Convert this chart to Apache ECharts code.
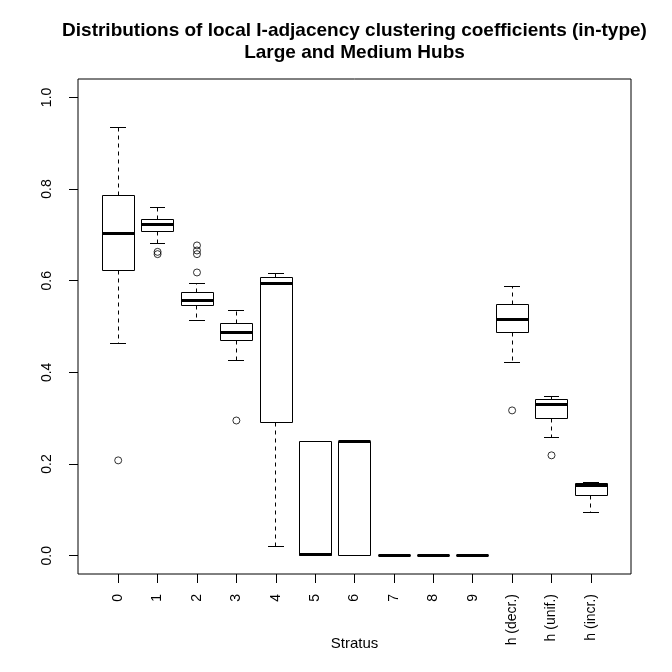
<!DOCTYPE html>
<html>
<head>
<meta charset="utf-8">
<script src="https://cdn.jsdelivr.net/npm/echarts@6/dist/echarts.min.js"></script>
<style>
  html, body { margin: 0; padding: 0; background: #fff; }
  #chart { width: 672px; height: 672px; }
</style>
</head>
<body>
<div id="chart"></div>
<script>
// strata along the x axis
var categories = ['0', '1', '2', '3', '4', '5', '6', '7', '8', '9', 'h (decr.)', 'h (unif.)', 'h (incr.)'];

// five-number summaries
var whiskerLow  = [0.463, 0.682, 0.514, 0.425, 0.019, 0, 0,     0, 0, 0, 0.422, 0.258, 0.095];
var quart1      = [0.623, 0.708, 0.546, 0.470, 0.291, 0, 0,     0, 0, 0, 0.487, 0.300, 0.132];
var median      = [0.703, 0.723, 0.557, 0.487, 0.594, 0.003, 0.250, 0, 0, 0, 0.516, 0.330, 0.154];
var quart3      = [0.786, 0.734, 0.575, 0.507, 0.607, 0.249, 0.250, 0, 0, 0, 0.549, 0.341, 0.158];
var whiskerHigh = [0.935, 0.760, 0.594, 0.535, 0.615, 0.249, 0.250, 0, 0, 0, 0.588, 0.347, 0.160];

// outliers: index of the stratum and value
var outlierGroup = [0, 1, 1, 2, 2, 2, 2, 3, 10, 11];
var outlierValue = [0.208, 0.663, 0.658, 0.677, 0.666, 0.658, 0.618, 0.295, 0.317, 0.219];

var yTicks = [0, 0.2, 0.4, 0.6, 0.8, 1.0];

var font = '"Liberation Sans", Arial, sans-serif';

var boxData = categories.map(function (c, i) {
  return [i, whiskerLow[i], quart1[i], median[i], quart3[i], whiskerHigh[i]];
});
var outlierData = outlierGroup.map(function (g, i) {
  return [g, outlierValue[i]];
});

function crisp(v) {
  return Math.round(v - 0.5) + 0.5;
}

// R style box: dashed whiskers, half width staples, thick median
function renderBox(params, api) {
  var i = api.value(0);
  var xc = api.coord([i, 0])[0];
  var yLo = api.coord([i, api.value(1)])[1];
  var yQ1 = api.coord([i, api.value(2)])[1];
  var yMd = api.coord([i, api.value(3)])[1];
  var yQ3 = api.coord([i, api.value(4)])[1];
  var yHi = api.coord([i, api.value(5)])[1];
  var band = api.size([1, 0])[0];
  var hw = band * 0.4;
  var cw = band * 0.2;
  var x = crisp(xc);
  var thin = { stroke: '#000', lineWidth: 1 };
  var dash = { stroke: '#000', lineWidth: 1, lineDash: [4, 4] };
  var children = [];
  if (Math.abs(yHi - yQ3) > 0.5) {
    children.push({ type: 'line', shape: { x1: x, y1: crisp(yQ3), x2: x, y2: crisp(yHi) }, style: dash });
  }
  if (Math.abs(yLo - yQ1) > 0.5) {
    children.push({ type: 'line', shape: { x1: x, y1: crisp(yQ1), x2: x, y2: crisp(yLo) }, style: dash });
  }
  children.push({ type: 'line', shape: { x1: Math.round(xc - cw), y1: crisp(yHi), x2: Math.round(xc + cw), y2: crisp(yHi) }, style: thin });
  children.push({ type: 'line', shape: { x1: Math.round(xc - cw), y1: crisp(yLo), x2: Math.round(xc + cw), y2: crisp(yLo) }, style: thin });
  var top = crisp(yQ3), bot = crisp(yQ1);
  children.push({
    type: 'rect',
    shape: { x: crisp(xc - hw), y: top, width: Math.round(2 * hw), height: bot - top },
    style: { fill: 'transparent', stroke: '#000', lineWidth: 1 }
  });
  children.push({
    type: 'line',
    shape: { x1: crisp(xc - hw), y1: crisp(yMd), x2: crisp(xc - hw) + Math.round(2 * hw), y2: crisp(yMd) },
    style: { stroke: '#000', lineWidth: 3 }
  });
  return { type: 'group', children: children };
}

var chart = echarts.init(document.getElementById('chart'));
chart.setOption({
  animation: false,
  backgroundColor: '#fff',
  textStyle: { fontFamily: font, color: '#000' },
  title: {
    text: 'Distributions of local I-adjacency clustering coefficients (in-type)\nLarge and Medium Hubs',
    left: 354.5,
    top: 20,
    textAlign: 'center',
    padding: 0,
    textStyle: { fontFamily: font, fontSize: 19, fontWeight: 'bold', lineHeight: 22, color: '#000' }
  },
  // 0: frame, 1: plot area, 2: x labels, 3: y labels
  grid: [
    { left: 78, right: 41, top: 79, bottom: 98, show: true, borderColor: '#000', borderWidth: 1, backgroundColor: 'transparent' },
    { left: 98.5, right: 61.4, top: 97.4, bottom: 116.3 },
    { left: 98.5, right: 61.4, top: 79, bottom: 98 },
    { left: 78, right: 41, top: 97.4, bottom: 116.3 }
  ],
  xAxis: [
    { gridIndex: 0, type: 'value', show: false, min: 0, max: 1 },
    { gridIndex: 1, type: 'category', data: categories, show: false },
    {
      gridIndex: 2,
      type: 'category',
      data: categories,
      axisLine: { show: false },
      axisTick: { show: true, alignWithLabel: true, length: 9, lineStyle: { color: '#000' } },
      axisLabel: { interval: 0, rotate: 90, margin: 20, fontSize: 14, color: '#000', fontFamily: font },
      splitLine: { show: false },
      name: 'Stratus',
      nameLocation: 'middle',
      nameGap: 62,
      nameMoveOverlap: false,
      nameTextStyle: { fontSize: 15, color: '#000', fontFamily: font }
    },
    { gridIndex: 3, type: 'value', show: false, min: 0, max: 1 }
  ],
  yAxis: [
    { gridIndex: 0, type: 'value', show: false, min: 0, max: 1 },
    { gridIndex: 1, type: 'value', show: false, min: yTicks[0], max: yTicks[yTicks.length - 1] },
    { gridIndex: 2, type: 'value', show: false, min: 0, max: 1 },
    {
      gridIndex: 3,
      type: 'value',
      min: yTicks[0],
      max: yTicks[yTicks.length - 1],
      interval: 0.2,
      axisLine: { show: false },
      axisTick: { show: true, length: 9, lineStyle: { color: '#000' } },
      axisLabel: {
        rotate: 90, margin: 24, fontSize: 14, color: '#000', fontFamily: font,
        formatter: function (v) { return v.toFixed(1); }
      },
      splitLine: { show: false }
    }
  ],
  series: [
    {
      type: 'custom',
      xAxisIndex: 1,
      yAxisIndex: 1,
      renderItem: renderBox,
      encode: { x: 0, y: [1, 2, 3, 4, 5] },
      data: boxData
    },
    {
      type: 'scatter',
      xAxisIndex: 1,
      yAxisIndex: 1,
      symbol: 'circle',
      symbolSize: 7,
      itemStyle: { color: 'transparent', borderColor: '#000', borderWidth: 1 },
      data: outlierData
    }
  ]
});
</script>
</body>
</html>
